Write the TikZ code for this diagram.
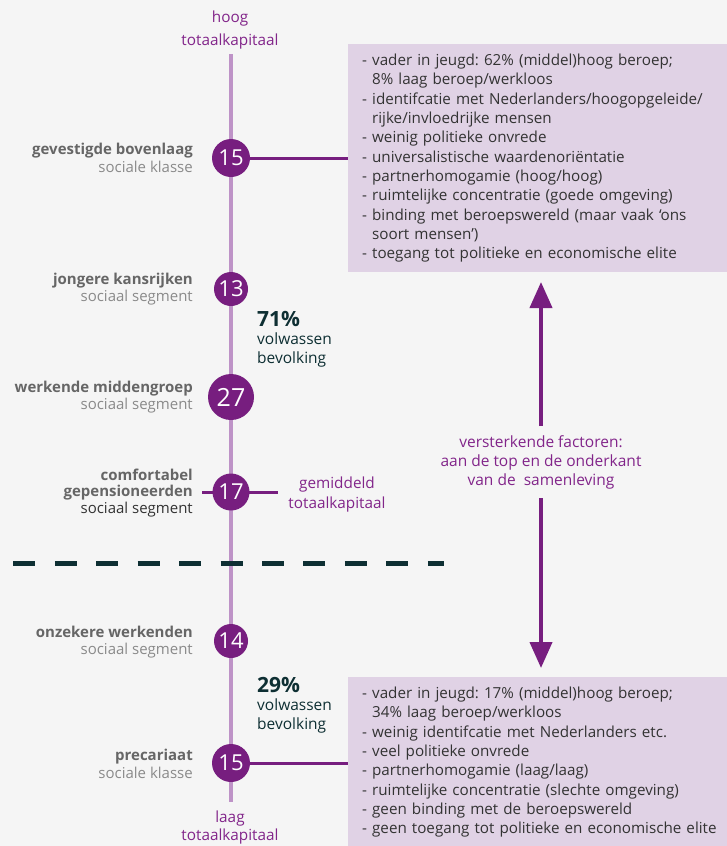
\documentclass[tikz,border=0pt]{standalone}
\usepackage{fontspec}
\setmainfont{Open Sans}
\usetikzlibrary{arrows.meta}
\definecolor{bgc}{HTML}{F5F5F5}
\definecolor{boxc}{HTML}{E0D2E5}
\definecolor{axisc}{HTML}{BE93C7}
\definecolor{dpurple}{HTML}{771E7F}
\definecolor{lpurple}{HTML}{82258A}
\definecolor{tealc}{HTML}{0E2F33}
\definecolor{gbold}{HTML}{666666}
\definecolor{glight}{HTML}{8A8A8A}
\definecolor{txtc}{HTML}{333333}
\tikzset{
  numc/.style={circle, fill=dpurple, text=white, inner sep=0pt, minimum size=#1},
  numf/.style={font=\fontsize{22}{22}\selectfont},
  lab/.style={anchor=east, align=right, inner sep=0pt, font=\fontsize{15}{17.8}\selectfont},
  plab/.style={align=center, text=lpurple, inner sep=0pt},
  pct/.style={anchor=north west, align=left, inner sep=0pt, text=tealc, font=\fontsize{15.5}{18.5}\selectfont},
  infobox/.style={anchor=north west, fill=boxc, align=left, text=txtc, inner xsep=14pt, inner ysep=0pt,
     text width=365pt, font=\fontsize{15.2}{19.3}\selectfont},
  conn/.style={dpurple, line width=3pt},
  bigarrow/.style={dpurple, line width=4pt, -{Triangle[width=22pt,length=26pt]}},
}
\newcommand{\bl}[1]{{\bfseries\color{gbold}#1}}
\newcommand{\lt}[1]{{\color{glight}#1}}
\newcommand{\ind}{\phantom{- }}
\begin{document}
\frenchspacing
\begin{tikzpicture}[x=1pt,y=-1pt]
\fill[bgc] (0,0) rectangle (727,846);
\useasboundingbox (0,0) rectangle (727,846);

% boxes
\node[infobox, minimum height=228pt] (topbox) at (348,44) {%
- vader in jeugd: 62\% (middel)hoog beroep;\\
\ind 8\% laag beroep/werkloos\\
- identifcatie met Nederlanders/hoogopgeleide/\\
\ind rijke/invloedrijke mensen\\
- weinig politieke onvrede\\
- universalistische waardenoriëntatie\\
- partnerhomogamie (hoog/hoog)\\
- ruimtelijke concentratie (goede omgeving)\\
- binding met beroepswereld (maar vaak ‘ons\\
\ind soort mensen’)\\
- toegang tot politieke en economische elite};
\node[infobox, minimum height=170pt] (botbox) at (348,677) {%
- vader in jeugd: 17\% (middel)hoog beroep;\\
\ind 34\% laag beroep/werkloos\\
- weinig identifcatie met Nederlanders etc.\\
- veel politieke onvrede\\
- partnerhomogamie (laag/laag)\\
- ruimtelijke concentratie (slechte omgeving)\\
- geen binding met de beroepswereld\\
- geen toegang tot politieke en economische elite};

% axis
\coordinate (atop) at (231,54);
\coordinate (abot) at (231,802);
\draw[axisc, line width=3.8pt] (atop) -- (abot);

% dashed separator
\coordinate (dl) at (13.3,563);
\coordinate (dr) at (444,563);
\draw[tealc, line width=5pt, dash pattern=on 22pt off 19.45pt] (dl) -- (dr);

% comfortable cross line
\coordinate (cl) at (202,492);
\coordinate (cr) at (278,492);
\draw[conn] (cl) -- (cr);

% circles
\node[numc=38pt, numf] (c1) at (231,158) {15};
\node[numc=34pt, numf] (c2) at (231,289) {13};
\node[numc=46pt, font=\fontsize{25}{25}\selectfont] (c3) at (231,397) {27};
\node[numc=37pt, numf] (c4) at (231,492) {17};
\node[numc=34pt, numf] (c5) at (231,641) {14};
\node[numc=38pt, numf] (c6) at (231,763) {15};

% connectors to boxes
\draw[conn] (c1.east) -- (c1.east -| topbox.west);
\draw[conn] (c6.east) -- (c6.east -| botbox.west);

% left labels
\node[lab] (l1) at (193,158) {\bl{gevestigde bovenlaag}\\\lt{sociale klasse}};
\node[lab] (l2) at (193,289) {\bl{jongere kansrijken}\\\lt{sociaal segment}};
\node[lab] (l3) at (193,397) {\bl{werkende middengroep}\\\lt{sociaal segment}};
\node[lab, font=\fontsize{15}{16.3}\selectfont] (l4) at (193,493) {\bl{comfortabel}\\\bl{gepensioneerden}\\{\color{txtc}sociaal segment}};
\node[lab] (l5) at (193,642) {\bl{onzekere werkenden}\\\lt{sociaal segment}};
\node[lab] (l6) at (193,764) {\bl{precariaat}\\\lt{sociale klasse}};

% axis end labels
\node[plab, font=\fontsize{15.3}{23}\selectfont] (hoog) at (230,30) {hoog\\totaalkapitaal};
\node[plab, font=\fontsize{15.3}{20}\selectfont] (gem) at (337,495) {gemiddeld\\totaalkapitaal};
\node[plab, font=\fontsize{15.3}{18}\selectfont] (laag) at (230,828) {laag\\totaalkapitaal};

% percentages
\node[pct] (p71) at (257,311) {{\bfseries\fontsize{21}{21}\selectfont 71\%}\\volwassen\\bevolking};
\node[pct] (p29) at (257,677) {{\bfseries\fontsize{21}{21}\selectfont 29\%}\\volwassen\\bevolking};

% middle label and arrows
\node[plab, font=\fontsize{15.5}{19}\selectfont] (vf) at (541,462) {versterkende factoren:\\aan de top en de onderkant\\van de\ \ samenleving};
\coordinate (upstart) at (541,426);
\coordinate (upend) at (541,282);
\coordinate (dnstart) at (541,498);
\coordinate (dnend) at (541,668);
\draw[bigarrow] (upstart) -- (upend);
\draw[bigarrow] (dnstart) -- (dnend);
\end{tikzpicture}
\end{document}
